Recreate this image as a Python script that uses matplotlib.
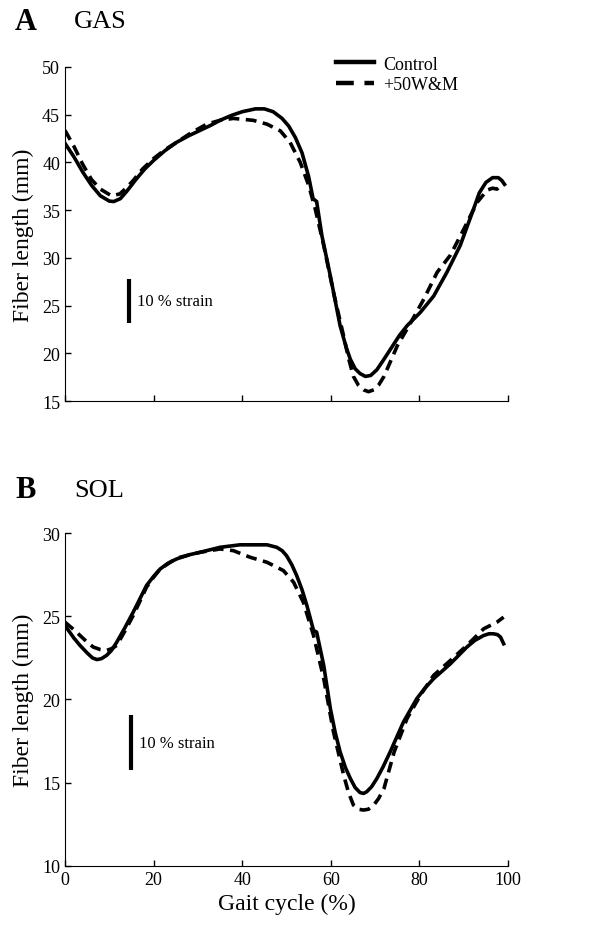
import matplotlib.pyplot as plt

# GAS fiber length (mm)
gas_ctrl_x = [0, 2, 4, 6, 8, 10, 11, 12.5, 14, 16, 18, 20, 22.5, 25.2, 28, 30.5, 33, 35, 37.5, 40, 43, 45,
              47, 49, 50.5, 52, 53.5, 55, 56, 56.8, 58, 59.9, 62.1, 63.5, 64.4, 65.5, 66.6, 67.8, 69,
              70.4, 72, 73.4, 75.5, 77.2, 80.2, 83.2, 86.2, 89.2, 92.2, 93.5, 95, 96.5, 97.8, 98.6, 99.2]
gas_ctrl_y = [42.0, 40.6, 39.0, 37.6, 36.5, 35.95, 35.9, 36.2, 37.0, 38.2, 39.3, 40.2, 41.2, 42.1, 42.8, 43.35,
              43.9, 44.4, 44.9, 45.3, 45.6, 45.6, 45.3, 44.6, 43.8, 42.6, 41.0, 38.5, 36.2, 35.9, 32.3, 28.1,
              22.9, 20.6, 19.4, 18.4, 17.9, 17.6, 17.7, 18.3, 19.4, 20.4, 21.9, 22.9, 24.3, 26.0, 28.5,
              31.3, 35.1, 36.8, 37.9, 38.4, 38.4, 38.1, 37.7]
gas_wm_x = [0, 2, 4, 6, 8, 10.5, 12.4, 14, 15.4, 17.5, 20, 22.5, 25.2, 28.5, 32, 35, 38, 42.5, 45.6, 48.6,
            50.8, 53.1, 55, 56.5, 58.4, 60.6, 62.9, 64, 65.1, 66.2, 67.4, 68.5, 69.7, 70.8, 72, 75, 78, 81,
            84, 87, 90, 93, 95.3, 96.5, 97.5, 98.6]
gas_wm_y = [43.35, 41.7, 39.8, 38.2, 37.2, 36.5, 36.7, 37.4, 38.1, 39.3, 40.4, 41.3, 42.1, 43.1, 44.0, 44.4,
            44.6, 44.4, 44.0, 43.3, 42.1, 40.0, 37.6, 35.1, 31.3, 26.4, 21.8, 19.5, 17.6, 16.7, 16.2, 16.0,
            16.2, 16.7, 17.6, 20.8, 23.2, 25.7, 28.5, 30.3, 33.0, 35.8, 37.1, 37.3, 37.2, 37.7]

# SOL fiber length (mm)
sol_ctrl_x = [0, 2, 3.4, 5, 6.2, 7.2, 8.2, 9.4, 10.5, 11.7, 13.5, 15.4, 17, 18.4, 20, 21.5, 23.3, 25.2, 28,
              30.5, 35, 39.5, 45.6, 47.8, 49, 50, 51.2, 52.3, 53.5, 54.6, 56.1, 56.8, 58.4, 59.9, 61,
              62.1, 63.3, 64.4, 65.5, 66.6, 67.4, 68.1, 69.2, 70.4, 71.8, 73.4, 76.4, 79.4, 81.3, 83.2,
              87, 90.7, 92.5, 94.5, 95.7, 96.7, 97.6, 98.3, 99]
sol_ctrl_y = [24.45, 23.7, 23.25, 22.8, 22.5, 22.4, 22.45, 22.65, 22.95, 23.45, 24.3, 25.25, 26.1, 26.85, 27.4,
              27.85, 28.2, 28.45, 28.7, 28.85, 29.15, 29.3, 29.3, 29.15, 28.95, 28.65, 28.1, 27.45, 26.6, 25.65,
              24.15, 24.05, 22.05, 19.45, 18.0, 16.85, 15.9, 15.25, 14.7, 14.4, 14.35, 14.45, 14.75, 15.25,
              15.95, 16.85, 18.65, 20.05, 20.7, 21.25, 22.15, 23.15, 23.55, 23.85, 23.95, 23.95, 23.9, 23.75, 23.35]
sol_wm_x = [0, 2, 3.4, 5, 6.4, 8, 9.4, 10.5, 11.7, 13.5, 15.4, 17, 18.4, 20, 21.5, 25.2, 30.5, 35, 38, 41.8,
            45.6, 49.3, 51.6, 53.8, 56.1, 58.4, 60.6, 62.9, 64, 65.1, 66.2, 67.4, 68.5, 69.7, 70.8, 72,
            74.3, 77.2, 80.2, 83.2, 87, 90.7, 94.5, 97.5, 99]
sol_wm_y = [24.65, 24.2, 23.85, 23.45, 23.15, 23.0, 22.95, 23.05, 23.25, 24.1, 25.05, 25.95, 26.75, 27.35,
            27.85, 28.5, 28.85, 29.05, 28.95, 28.55, 28.25, 27.75, 27.05, 25.85, 23.85, 21.25, 18.05, 15.45,
            14.4, 13.65, 13.4, 13.35, 13.4, 13.65, 14.05, 14.65, 16.85, 18.85, 20.25, 21.45, 22.35, 23.25,
            24.25, 24.65, 24.95]

plt.rcParams['font.family'] = 'Liberation Serif'
plt.rcParams['font.size'] = 13

fig = plt.figure(figsize=(6.07, 9.29), dpi=100)
ax1 = fig.add_axes([0.107, 0.567, 0.73, 0.36])
ax2 = fig.add_axes([0.107, 0.067, 0.73, 0.358])

lw = 2.6
dash = (0, (3.0, 1.8))

for ax, xc, yc, xw, yw in [(ax1, gas_ctrl_x, gas_ctrl_y, gas_wm_x, gas_wm_y),
                           (ax2, sol_ctrl_x, sol_ctrl_y, sol_wm_x, sol_wm_y)]:
    ax.plot(xc, yc, color='black', linewidth=lw, label='Control', solid_joinstyle='round')
    ax.plot(xw, yw, color='black', linewidth=lw, linestyle=dash, label='+50W&M',
            dash_joinstyle='round')
    ax.spines['top'].set_visible(False)
    ax.spines['right'].set_visible(False)
    ax.set_xlim(0, 100)
    ax.set_xticks([0, 20, 40, 60, 80, 100])
    ax.tick_params(direction='in', length=4, width=1, labelsize=13)
    ax.set_ylabel('Fiber length (mm)', fontsize=17, labelpad=6)

ax1.set_ylim(15, 50)
ax1.set_yticks([15, 20, 25, 30, 35, 40, 45, 50])
ax1.set_xticklabels([])
ax2.set_ylim(10, 30)
ax2.set_yticks([10, 15, 20, 25, 30])
ax2.set_xlabel('Gait cycle (%)', fontsize=17, labelpad=4)

# strain scale bars
ax1.plot([14.5, 14.5], [23.2, 27.8], color='black', linewidth=3, solid_capstyle='butt')
ax1.text(16.3, 25.5, '10 % strain', fontsize=12, va='center')
ax2.plot([14.9, 14.9], [15.75, 19.05], color='black', linewidth=3, solid_capstyle='butt')
ax2.text(16.6, 17.4, '10 % strain', fontsize=12, va='center')

leg = ax1.legend(loc='upper left', bbox_to_anchor=(0.595, 1.055), frameon=False, fontsize=13,
                 handlelength=2.1, handletextpad=0.5, labelspacing=0.2, borderaxespad=0)
hl = leg.get_lines()
hl[0].set_linewidth(3.2)
hl[1].set_linewidth(3.2)
hl[1].set_linestyle((0, (4.0, 2.4)))

fig.text(0.025, 0.976, 'A', fontsize=22, fontweight='bold', va='center')
fig.text(0.122, 0.976, 'GAS', fontsize=19, va='center')
fig.text(0.025, 0.472, 'B', fontsize=22, fontweight='bold', va='center')
fig.text(0.122, 0.472, 'SOL', fontsize=19, va='center')

fig.savefig('out.png', dpi=100)
